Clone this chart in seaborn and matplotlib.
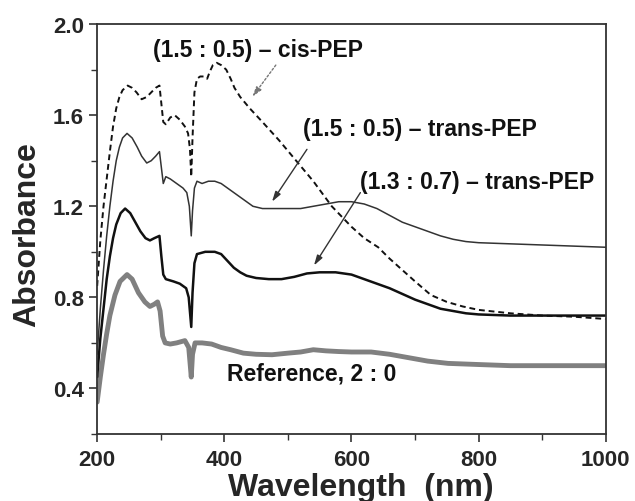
import matplotlib
matplotlib.use("Agg")
import matplotlib.pyplot as plt
import seaborn as sns
from matplotlib.ticker import MultipleLocator

sns.set_theme(style="ticks")
plt.rcParams['font.family'] = ['Liberation Sans', 'DejaVu Sans']
plt.rcParams['font.weight'] = 'bold'

# ---- data ----
cis_wl = [200, 205, 210, 215, 220, 225, 230, 235, 240, 248, 255, 262, 270, 278, 285, 292, 298, 301, 304, 308,
          315, 322, 330, 338, 343, 346, 348, 350, 353, 357, 362, 368, 373, 377, 382, 388, 395, 403, 410, 416,
          425, 440, 460, 486, 510, 540, 569, 600, 620, 642, 660, 680, 700, 725, 750, 775, 800, 850, 900, 950, 1000]
cis_abs = [0.85, 1.05, 1.20, 1.32, 1.44, 1.55, 1.63, 1.68, 1.71, 1.73, 1.72, 1.70, 1.67, 1.68, 1.70, 1.72, 1.73, 1.65, 1.57, 1.56,
           1.59, 1.60, 1.58, 1.55, 1.52, 1.45, 1.33, 1.50, 1.70, 1.76, 1.77, 1.77, 1.76, 1.79, 1.82, 1.83, 1.82, 1.80, 1.76, 1.72,
           1.68, 1.63, 1.57, 1.49, 1.41, 1.31, 1.20, 1.11, 1.06, 1.02, 0.97, 0.92, 0.87, 0.81, 0.78, 0.76, 0.745, 0.73, 0.72, 0.715, 0.705]

t15_wl = [200, 205, 210, 215, 220, 225, 230, 235, 240, 247, 255, 263, 270, 278, 285, 292, 298, 301, 304, 308,
          315, 325, 335, 341, 345, 348, 350, 353, 357, 365, 375, 385, 395, 405, 415, 425, 435, 445, 460, 480,
          500, 520, 540, 560, 580, 600, 620, 640, 660, 680, 700, 720, 740, 760, 780, 800, 850, 900, 950, 1000]
t15_abs = [0.55, 0.75, 0.92, 1.07, 1.20, 1.31, 1.40, 1.46, 1.50, 1.52, 1.50, 1.46, 1.42, 1.39, 1.40, 1.42, 1.44, 1.37, 1.30, 1.33,
           1.32, 1.30, 1.28, 1.26, 1.20, 1.07, 1.18, 1.28, 1.31, 1.30, 1.31, 1.31, 1.30, 1.28, 1.26, 1.24, 1.22, 1.20, 1.19, 1.19,
           1.19, 1.19, 1.20, 1.21, 1.22, 1.22, 1.21, 1.19, 1.16, 1.13, 1.11, 1.09, 1.07, 1.055, 1.045, 1.04, 1.035, 1.03, 1.025, 1.02]

t13_wl = [200, 205, 210, 215, 220, 225, 230, 237, 244, 252, 260, 268, 276, 283, 290, 298, 301, 304, 308, 320,
          330, 340, 344, 348, 350, 353, 357, 370, 385, 395, 405, 415, 425, 435, 450, 470, 490, 510, 530, 550,
          575, 600, 620, 640, 660, 680, 700, 720, 740, 760, 780, 800, 850, 900, 1000]
t13_abs = [0.45, 0.62, 0.75, 0.88, 0.98, 1.06, 1.12, 1.17, 1.19, 1.17, 1.13, 1.09, 1.06, 1.05, 1.06, 1.07, 0.98, 0.90, 0.88, 0.87,
           0.86, 0.84, 0.80, 0.67, 0.82, 0.95, 0.99, 1.00, 1.00, 0.99, 0.96, 0.93, 0.91, 0.895, 0.885, 0.88, 0.88, 0.89, 0.905, 0.91,
           0.91, 0.90, 0.88, 0.86, 0.84, 0.815, 0.79, 0.77, 0.75, 0.74, 0.73, 0.725, 0.72, 0.72, 0.72]

ref_wl = [200, 205, 210, 215, 220, 228, 236, 247, 255, 265, 275, 283, 290, 295, 299, 303, 307, 315, 325, 338,
          344, 348, 350, 354, 365, 380, 395, 410, 430, 450, 475, 500, 520, 540, 560, 580, 600, 631, 660, 690,
          720, 752, 800, 850, 1000]
ref_abs = [0.34, 0.45, 0.55, 0.64, 0.72, 0.81, 0.87, 0.90, 0.88, 0.82, 0.78, 0.76, 0.77, 0.78, 0.74, 0.63, 0.60, 0.595, 0.60, 0.61,
           0.58, 0.45, 0.55, 0.60, 0.60, 0.595, 0.58, 0.57, 0.555, 0.55, 0.548, 0.555, 0.56, 0.57, 0.565, 0.562, 0.56, 0.56, 0.55, 0.535,
           0.52, 0.51, 0.505, 0.50, 0.50]

labels = ["(1.5 : 0.5) \u2013 cis-PEP", "(1.5 : 0.5) \u2013 trans-PEP", "(1.3 : 0.7) \u2013 trans-PEP", "Reference, 2 : 0"]

fig = plt.figure(figsize=(6.35, 5.02), dpi=100)
ax = fig.add_axes([0.153, 0.1335, 0.801, 0.8165])

sns.lineplot(x=ref_wl, y=ref_abs, ax=ax, color="#808080", lw=3.5)
sns.lineplot(x=t13_wl, y=t13_abs, ax=ax, color="#111111", lw=1.8)
sns.lineplot(x=t15_wl, y=t15_abs, ax=ax, color="#333333", lw=1.1)
sns.lineplot(x=cis_wl, y=cis_abs, ax=ax, color="#111111", lw=1.4, linestyle=(0, (3, 2)))

ax.set_xlim(200, 1000)
ax.xaxis.set_major_locator(MultipleLocator(200))
ax.xaxis.set_minor_locator(MultipleLocator(100))
ax.yaxis.set_minor_locator(MultipleLocator(0.2))
ax.set_yticks([0.4, 0.8, 1.2, 1.6, 2.0])
ax.set_ylim(0.2, 2.0)
ax.tick_params(axis='both', which='major', direction='out', length=6, width=1.2, labelsize=16, color="#333333")
ax.tick_params(axis='x', which='major', pad=5)
ax.tick_params(axis='both', which='minor', direction='out', length=4, width=1.0, color="#333333")
for lab in ax.get_xticklabels() + ax.get_yticklabels():
    lab.set_fontweight('bold')
for s in ax.spines.values():
    s.set_visible(True)
    s.set_color("#333333")
    s.set_linewidth(1.3)

ax.set_xlabel("Wavelength  (nm)", fontsize=23, fontweight='bold')
ax.set_ylabel("Absorbance", fontsize=23, fontweight='bold')
ax.xaxis.set_label_coords(0.518, -0.092)
ax.yaxis.set_label_coords(-0.108, 0.488)

tk = dict(fontsize=16.5, fontweight='bold', ha='center', va='center', color="#111111")
ax.text(453, 1.89, labels[0], **tk)
ax.text(708, 1.54, labels[1], **tk)
ax.text(798, 1.31, labels[2], **tk)
ax.text(537, 0.47, labels[3], **tk)

ap = dict(arrowstyle='-|>,head_length=0.5,head_width=0.15', lw=1.0, shrinkA=0, shrinkB=0)
ax.annotate("", xy=(444, 1.68), xytext=(481, 1.82),
            arrowprops=dict(ap, color="#777777", linestyle=(0, (1.5, 1.5))))
ax.annotate("", xy=(475, 1.22), xytext=(530, 1.45), arrowprops=dict(ap, color="#333333"))
ax.annotate("", xy=(541, 0.94), xytext=(614, 1.26), arrowprops=dict(ap, color="#333333"))

fig.savefig("out.png", dpi=100)
